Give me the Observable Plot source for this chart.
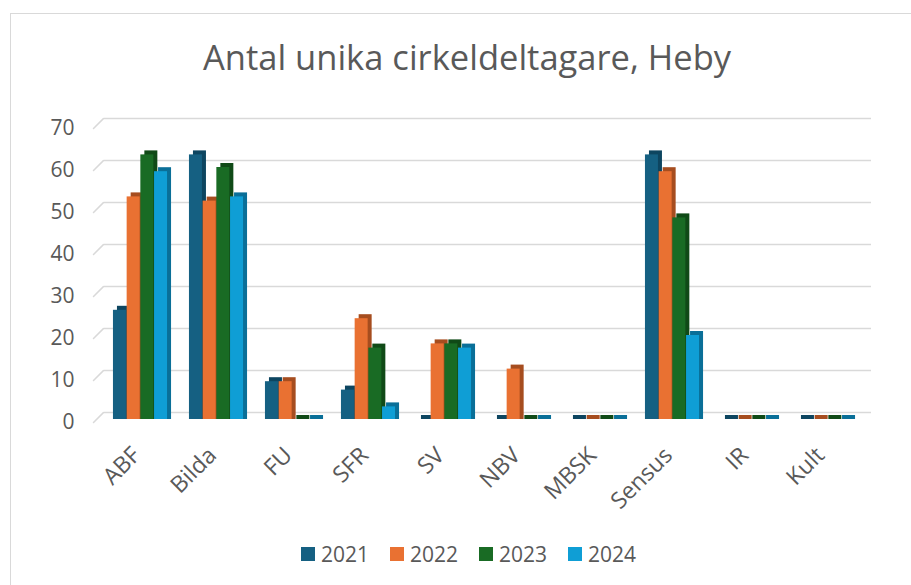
<!DOCTYPE html>
<html><head><meta charset="utf-8">
<script src="https://cdn.jsdelivr.net/npm/d3@7"></script>
<script src="https://cdn.jsdelivr.net/npm/@observablehq/plot@0.6"></script>
<style>
body{margin:0;background:#fff;font-family:"Open Sans",sans-serif;}
#wrap{position:relative;width:911px;height:585px;overflow:hidden;background:#fff;}
#box{position:absolute;left:10px;top:13px;width:1000px;height:1000px;border:1px solid #d9d9d9;}
#title{position:absolute;left:0;width:934px;top:35px;text-align:center;font-size:34.5px;color:#595959;line-height:44px;white-space:nowrap;}
#chart{position:absolute;left:0;top:0;}
#legend{position:absolute;left:301px;top:540px;display:flex;gap:21px;font-size:21px;color:#595959;line-height:28px;}
.item{display:flex;align-items:center;gap:6px;}
.sw{width:14px;height:14px;}
</style></head><body>
<div id="wrap">
  <div id="box"></div>
  <div id="chart"></div>
  <div id="title">Antal unika cirkeldeltagare, Heby</div>
  <div id="legend"></div>
</div>
<script>
const categories = ["ABF","Bilda","FU","SFR","SV","NBV","MBSK","Sensus","IR","Kult"];
const years = ["2021","2022","2023","2024"];
const v2021 = [26,63,9,7,0,0,0,63,0,0];
const v2022 = [53,52,9,24,18,12,0,59,0,0];
const v2023 = [63,60,0,17,18,0,0,48,0,0];
const v2024 = [59,53,0,3,17,0,0,20,0,0];
const yTicks = [0,10,20,30,40,50,60,70];
const colors = ["#156082","#E97132","#196B24","#0F9ED5"];
const sideColors = ["#0d4560","#a64d1f","#104a17","#0a6f98"];

const series = [v2021, v2022, v2023, v2024];
const rows = [];
years.forEach((yr, i) => categories.forEach((c, j) => rows.push({cat: c, year: yr, value: series[i][j]})));

const W = 911, H = 530, mL = 98, mR = 46, mT = 125, mB = 111;
const bw = (W - mL - mR) / categories.length;
const sub = d3.scaleBand(years, [0, bw]).paddingInner(0).paddingOuter(0.8);
const depth = 4;

const marks = [
  Plot.ruleY(yTicks, {y: d => d, stroke: "#d9d9d9", strokeWidth: 1.5, dy: -7, insetLeft: 6, insetRight: -6}),
  Plot.vector(yTicks, {y: d => d, frameAnchor: "left", dx: -5, dy: 3, length: 14, rotate: 45, anchor: "start",
    stroke: "#d9d9d9", strokeWidth: 1.5,
    shape: {draw(ctx, l) { ctx.moveTo(0, 0); ctx.lineTo(0, -l); }}})
];
years.forEach((yr, i) => {
  const d = rows.filter(r => r.year === yr);
  const L = sub(yr), R = bw - sub(yr) - sub.bandwidth();
  marks.push(Plot.barY(d, {x: "cat", y: "value", fill: sideColors[i], insetLeft: L, insetRight: R,
    insetBottom: -depth, dx: depth, dy: -depth}));
  marks.push(Plot.barY(d, {x: "cat", y: "value", fill: colors[i], insetLeft: L, insetRight: R}));
});
marks.push(Plot.axisY({ticks: yTicks, tickSize: 0, tickPadding: 24, dy: 3, label: null}));
marks.push(Plot.text(categories, {x: d => d, frameAnchor: "bottom", rotate: -45, textAnchor: "end",
  lineAnchor: "middle", dx: -4, dy: 32, fontSize: 23, fill: "#595959"}));

const chart = Plot.plot({
  width: W, height: H,
  marginLeft: mL, marginRight: mR, marginTop: mT, marginBottom: mB,
  x: {domain: categories, padding: 0, axis: null},
  y: {domain: [0, 70]},
  style: {fontSize: "21px", fontFamily: "'Open Sans', sans-serif", color: "#595959", background: "transparent"},
  marks
});
document.getElementById("chart").appendChild(chart);

const leg = document.getElementById("legend");
years.forEach((yr, i) => {
  const it = document.createElement("div"); it.className = "item";
  const sw = document.createElement("div"); sw.className = "sw"; sw.style.background = colors[i];
  const tx = document.createElement("span"); tx.textContent = yr;
  it.appendChild(sw); it.appendChild(tx); leg.appendChild(it);
});
</script>
</body></html>
